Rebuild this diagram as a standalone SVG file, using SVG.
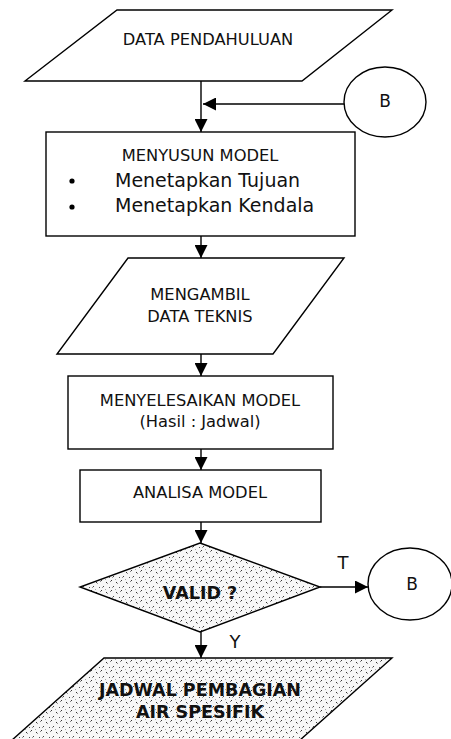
<svg xmlns="http://www.w3.org/2000/svg" width="451" height="739" viewBox="0 0 451 739">
<style>
.s{fill:#fff;stroke:#000;stroke-width:1.4}
.d{fill:url(#dots);stroke:#000;stroke-width:1.4}
.t{font-family:"DejaVu Sans",Verdana,sans-serif;font-size:16.3px;fill:#111;text-anchor:middle}
.big{font-size:19px;text-anchor:start}
.b{font-weight:bold;font-size:17.5px}
.c line{stroke:#000;stroke-width:1.4}
</style>
<defs>
<pattern id="dots" width="10" height="10" patternUnits="userSpaceOnUse">
<rect width="10" height="10" fill="#f7f7f7"/>
<rect x="1" y="0" width="1" height="1" fill="#333"/>
<rect x="0" y="1" width="1" height="1" fill="#888"/>
<rect x="6" y="2" width="1" height="1" fill="#333"/>
<rect x="7" y="3" width="1" height="1" fill="#999"/>
<rect x="3" y="6" width="1" height="1" fill="#444"/>
<rect x="2" y="7" width="1" height="1" fill="#999"/>
<rect x="9" y="7" width="1" height="1" fill="#555"/>
<rect x="5" y="9" width="1" height="1" fill="#aaa"/>
</pattern>
<marker id="ah" markerWidth="13" markerHeight="13" refX="13" refY="6.5" orient="auto" markerUnits="userSpaceOnUse">
<path d="M0,0 L13,6.5 L0,13 Z" fill="#000"/>
</marker>
</defs>

<g class="c" id="connectors">
<line x1="201" y1="81" x2="201" y2="132" marker-end="url(#ah)"/>
<line x1="344" y1="104" x2="203" y2="104" marker-end="url(#ah)"/>
<line x1="201" y1="236" x2="201" y2="258" marker-end="url(#ah)"/>
<line x1="201" y1="354" x2="201" y2="376" marker-end="url(#ah)"/>
<line x1="201" y1="449" x2="201" y2="470" marker-end="url(#ah)"/>
<line x1="201" y1="522" x2="201" y2="543" marker-end="url(#ah)"/>
<line x1="320" y1="587" x2="368" y2="587" marker-end="url(#ah)"/>
<line x1="201" y1="632" x2="201" y2="658" marker-end="url(#ah)"/>
</g>

<g id="data-pendahuluan">
<polygon class="s" points="117,10 392,10 302,81 25,81"/>
<text class="t" x="208" y="45">DATA PENDAHULUAN</text>
</g>

<g id="b-top">
<ellipse class="s" cx="385" cy="102" rx="41" ry="35"/>
<text class="t" x="385" y="107" style="font-size:17px">B</text>
</g>

<g id="menyusun-model">
<rect class="s" x="46" y="132" width="309" height="104"/>
<text class="t" x="200" y="161">MENYUSUN MODEL</text>
<circle cx="72" cy="181" r="2.6" fill="#000"/>
<text class="t big" x="115" y="187">Menetapkan Tujuan</text>
<circle cx="72" cy="207" r="2.6" fill="#000"/>
<text class="t big" x="115" y="212">Menetapkan Kendala</text>
</g>

<g id="mengambil-data">
<polygon class="s" points="128,258 344,258 273,354 57,354"/>
<text class="t" x="200" y="300">MENGAMBIL</text>
<text class="t" x="200" y="322">DATA TEKNIS</text>
</g>

<g id="menyelesaikan-model">
<rect class="s" x="68" y="376" width="265" height="73"/>
<text class="t" x="200" y="406">MENYELESAIKAN MODEL</text>
<text class="t" x="200" y="427">(Hasil : Jadwal)</text>
</g>

<g id="analisa-model">
<rect class="s" x="80" y="470" width="241" height="52"/>
<text class="t" x="200" y="498">ANALISA MODEL</text>
</g>

<g id="valid">
<polygon class="d" points="200,543 320,587 200,632 80,587"/>
<text class="t b" x="200" y="599">VALID ?</text>
</g>

<text class="t" x="343" y="569" style="font-size:18px">T</text>
<text class="t" x="235" y="648" style="font-size:18px">Y</text>

<g id="b-bottom">
<ellipse class="s" cx="410" cy="584" rx="42" ry="36"/>
<text class="t" x="412" y="590" style="font-size:17px">B</text>
</g>

<g id="jadwal">
<polygon class="d" points="104,658 392,658 290,749 2,749"/>
<text class="t b" x="200" y="696">JADWAL PEMBAGIAN</text>
<text class="t b" x="200" y="718">AIR SPESIFIK</text>
</g>
</svg>
